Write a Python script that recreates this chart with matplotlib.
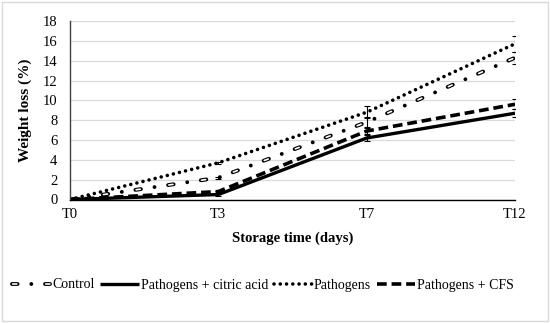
import matplotlib
matplotlib.use("Agg")
import matplotlib.pyplot as plt
from matplotlib.patches import Rectangle
from matplotlib.legend_handler import HandlerTuple

plt.rcParams['font.family'] = ['Liberation Serif', 'DejaVu Serif']
plt.rcParams['lines.scale_dashes'] = False

days = ["T0", "T3", "T7", "T12"]
control = [0.0, 2.2, 7.8, 14.3]
control_err = [0.05, 0.1, 0.5, 0.6]
citric = [0.0, 0.5, 6.2, 8.7]
citric_err = [0.05, 0.1, 0.3, 0.4]
pathogens = [0.0, 3.7, 8.8, 15.7]
pathogens_err = [0.05, 0.1, 0.6, 0.8]
cfs = [0.0, 0.8, 6.9, 9.6]
cfs_err = [0.05, 0.1, 0.3, 0.5]

fig = plt.figure(figsize=(5.5, 3.23), dpi=100)
ax = fig.add_axes([70/550, 1-199.5/323, 445/550, 178.5/323])
x = list(range(len(days)))

# Control: hollow long dash + dot
cb, = ax.plot(x, control, color='black', lw=2.8,
              linestyle=(0, (4.0, 9.9, 0.01, 9.89)), dash_capstyle='round')
cw, = ax.plot(x, control, color='white', lw=1.2,
              linestyle=(23.3, (3.0, 20.8)), dash_capstyle='round')
ci, = ax.plot(x, citric, color='black', lw=2.4, solid_capstyle='butt')
pa, = ax.plot(x, pathogens, color='black', lw=2.6,
              linestyle=(0, (0.01, 4.5)), dash_capstyle='round')
cf, = ax.plot(x, cfs, color='black', lw=2.6,
              linestyle=(0, (7.0, 3.5)), dash_capstyle='butt')

for vals, err in [(control, control_err), (citric, citric_err),
                  (pathogens, pathogens_err), (cfs, cfs_err)]:
    ax.errorbar(x, vals, yerr=err, fmt='none', ecolor='black',
                elinewidth=0.8, capsize=2.5, capthick=0.8)

ax.set_xlim(0, 3)
ax.set_ylim(0, 18)
ax.set_yticks(range(0, 19, 2))
ax.set_xticks(x)
ax.set_xticklabels(days)
ax.tick_params(axis='both', length=0, labelsize=10.5)
ax.tick_params(axis='y', pad=9)
ax.tick_params(axis='x', pad=6)
ax.grid(axis='y', color='#d9d9d9', lw=0.9)
ax.set_axisbelow(True)
for s in ['top', 'right']:
    ax.spines[s].set_visible(False)
ax.spines['left'].set_color('#404040')
ax.spines['bottom'].set_color('black')
ax.spines['left'].set_linewidth(1.0)
ax.spines['bottom'].set_linewidth(1.0)

ax.set_ylabel("Weight loss (%)", fontsize=11, fontweight='bold')
ax.yaxis.set_label_coords((32-70)/445, 0.5)
ax.set_xlabel("Storage time (days)", fontsize=10.5, fontweight='bold', labelpad=8)

leg = fig.legend([(cb, cw), ci, pa, cf],
                 ["Control", "Pathogens + citric acid", "Pathogens", "Pathogens + CFS"],
                 handler_map={tuple: HandlerTuple(ndivide=1, pad=0)},
                 loc='center', bbox_to_anchor=(263/550, 1-285/323), ncol=4,
                 frameon=False, fontsize=10, handlelength=2.75,
                 columnspacing=0.4, handletextpad=0.15, borderpad=0)

fig.patches.append(Rectangle((0.003, 0.005), 0.994, 0.99, transform=fig.transFigure,
                             fill=False, edgecolor='#d9d9d9', lw=1.0))

fig.savefig("out.png", dpi=100)
